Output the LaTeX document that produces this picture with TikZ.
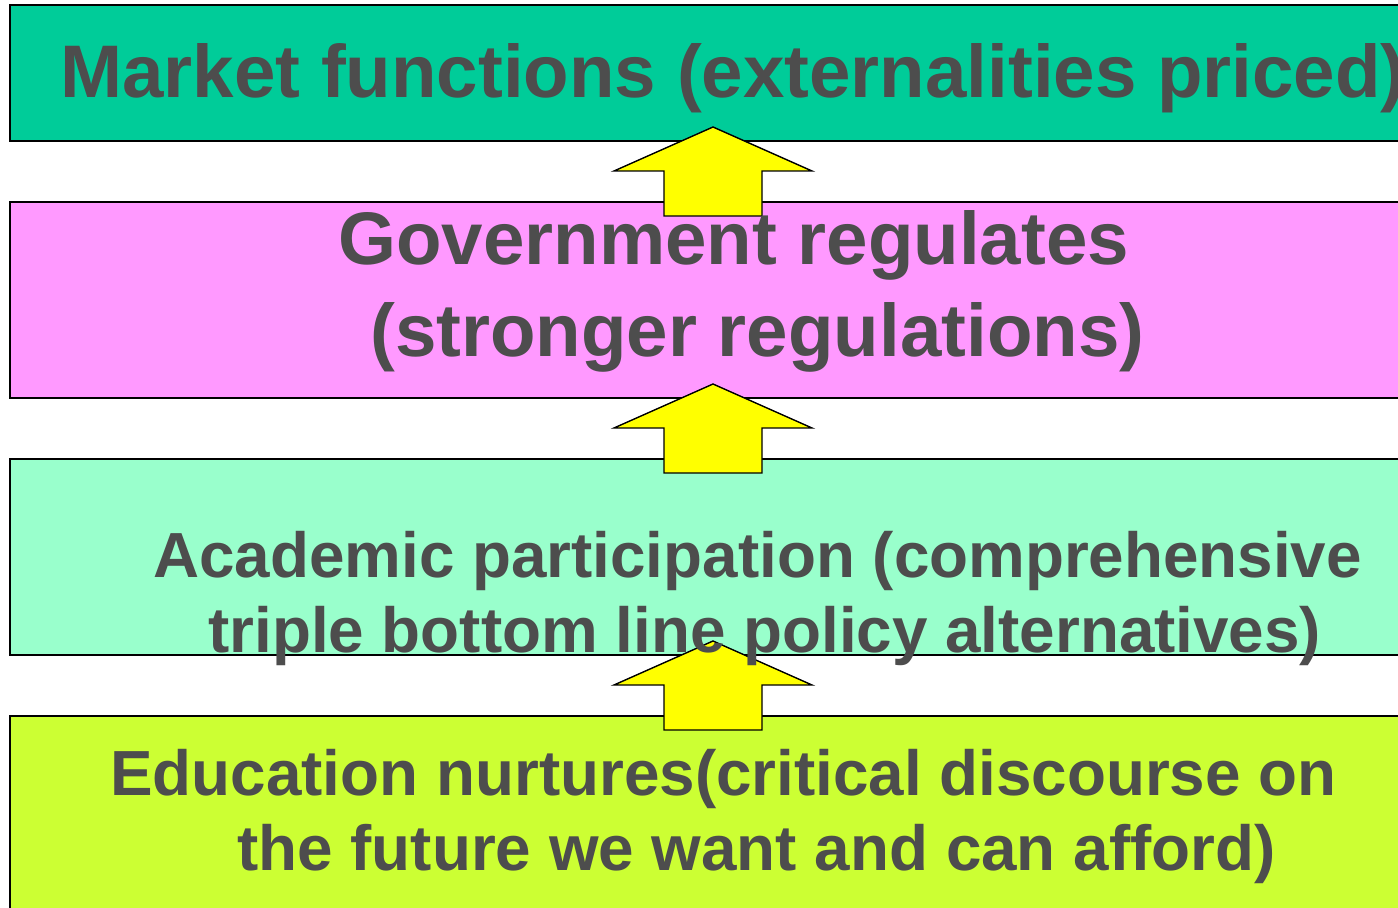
\documentclass[tikz,border=0pt]{standalone}
\usepackage{fontspec}
\setmainfont{Liberation Sans}
\usepackage{tikz}
\definecolor{marketgreen}{HTML}{00CC99}
\definecolor{govpink}{HTML}{FF99FF}
\definecolor{acadmint}{HTML}{99FFCC}
\definecolor{edulime}{HTML}{CCFF33}
\definecolor{arrowyellow}{HTML}{FFFF00}
\definecolor{textgray}{HTML}{4D4D4D}
\tikzset{
	layerbox/.style={draw=black,line width=0.7pt},
	bigtext/.style={anchor=base west,inner sep=0pt,text=textgray,font=\fontsize{42.4}{50}\selectfont\bfseries},
	midtext/.style={anchor=base west,inner sep=0pt,text=textgray,font=\fontsize{36.3}{44}\selectfont\bfseries},
	pics/blockup/.style={code={
		\draw[fill=arrowyellow,line width=0.8pt,line join=miter]
			(-49,0)--(-49,-45)--(-99,-45)--(0,-89)--(99,-45)--(49,-45)--(49,0)--cycle;
	}}
}

\begin{document}
\begin{tikzpicture}[x=0.02cm,y=-0.02cm]
	\clip (0,0) rectangle (1398,908);
	% layers
	\draw[layerbox,fill=marketgreen] (10,5) rectangle (1420,141);
	\draw[layerbox,fill=govpink] (10,202) rectangle (1420,398);
	\draw[layerbox,fill=acadmint] (10,459) rectangle (1420,655);
	\draw[layerbox,fill=edulime] (10,716) rectangle (1420,930);
	
	% arrows upward
	\pic at (713,216) {blockup};
	\pic at (713,473) {blockup};
	\pic at (713,730) {blockup};
	
	% labels
	\node[bigtext] (market) at (60,98) {Market functions (externalities priced)};
	\node[bigtext] (gov1) at (338,265) {Government regulates};
	\node[bigtext] (gov2) at (370,357) {(stronger regulations)};
	\node[midtext] (acad1) at (153,577) {Academic participation (comprehensive};
	\node[midtext] (acad2) at (208,652) {triple bottom line policy alternatives)};
	\node[midtext] (edu1) at (110,795) {Education nurtures(critical discourse on};
	\node[midtext] (edu2) at (237,870) {the future we want and can afford)};
\end{tikzpicture}
\end{document}
